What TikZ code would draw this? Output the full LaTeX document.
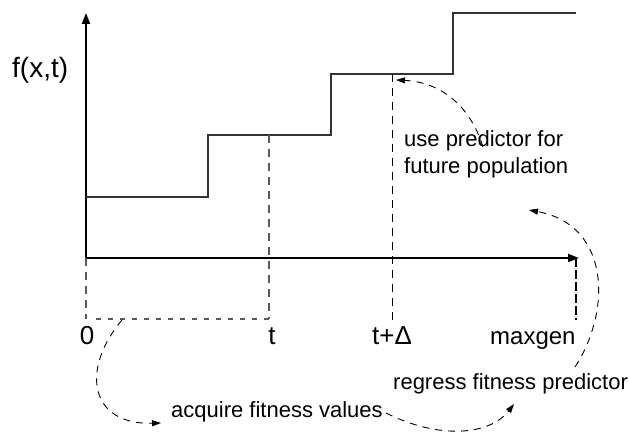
\documentclass[tikz,border=0pt]{standalone}
\usepackage{fontspec}
\setmainfont{Liberation Sans}
\usetikzlibrary{arrows.meta}
\begin{document}
\begin{tikzpicture}[x=1pt,y=-1pt,
  axis/.style={line width=2pt,-{Triangle[length=11pt,width=8pt]}},
  stepline/.style={line width=1.3pt,draw=black!80},
  guide/.style={line width=1.3pt,draw=black!65,dash pattern=on 8pt off 6pt},
  guideblack/.style={line width=1pt,draw=black,dash pattern=on 8pt off 6pt},
  dotguide/.style={line width=1.2pt,draw=black!65,dash pattern=on 5pt off 7pt},
  endguide/.style={line width=2.5pt,draw=black,dash pattern=on 9pt off 3pt},
  flow/.style={line width=0.9pt,dash pattern=on 7pt off 6pt,-{Triangle[length=9pt,width=6pt]}},
  big/.style={font=\fontsize{28}{32}\selectfont,inner sep=0pt},
  tick/.style={font=\fontsize{26}{30}\selectfont,inner sep=0pt,anchor=base},
  note/.style={font=\fontsize{22}{26}\selectfont,inner sep=0pt,anchor=base west,align=left}]
\useasboundingbox (0,0) rectangle (629,433);
% axes
\coordinate (O) at (86,258);
\coordinate (ytop) at (86,13);
\coordinate (xend) at (579,258);
\draw[axis] (86,259) -- (ytop);
\draw[axis] (85,258) -- (xend);
% step function
\coordinate (s0) at (86,197);
\coordinate (s1) at (208,197);
\coordinate (s2) at (208,135);
\coordinate (s3) at (331,135);
\coordinate (s4) at (331,74);
\coordinate (s5) at (453,74);
\coordinate (s6) at (453,13);
\coordinate (s7) at (576,13);
\draw[stepline] (s0) -- (s1) -- (s2) -- (s3) -- (s4) -- (s5) -- (s6) -- (s7);
% guides
\coordinate (g0) at (86,319);
\coordinate (gt) at (269,319);
\coordinate (gtt) at (269,135);
\coordinate (gd) at (392,320);
\coordinate (gdt) at (392,74);
\coordinate (gm) at (576,320);
\coordinate (gmt) at (576,258);
\coordinate (gs) at (96,319);
\draw[guide] (O) -- (g0);
\draw[guide] (gtt) -- (gt);
\draw[guideblack] (gdt) -- (gd);
\draw[dotguide] (gs) -- (gt);
\draw[endguide] (gmt) -- (gm);
% labels
\node[big,anchor=base west] (fl) at (12,78) {f(x,t)};
\node[tick] (l0) at (87,344) {0};
\node[tick] (lt) at (272,344) {t};
\node[tick] (ld) at (392,344) {t+Δ};
\node[note,font=\fontsize{24}{28}\selectfont] (lm) at (490,344) {maxgen};
\node[note] (use) at (404,173) {use predictor for\\[1pt]future population};
\node[note] (reg) at (393,389) {regress fitness predictor};
\node[note] (acq) at (171,417) {acquire fitness values};
% flow arrows
\coordinate (a1s) at (483,147);
\coordinate (a1e) at (396,80);
\coordinate (a2s) at (575,367);
\coordinate (a2e) at (529,210);
\coordinate (a3s) at (122,320);
\coordinate (a3e) at (161,423);
\coordinate (a4s) at (386,413);
\coordinate (a4e) at (514,404);
\draw[flow] (a1s) .. controls (470,105) and (440,82) .. (a1e);
\draw[flow] (a2s) .. controls (612,310) and (610,225) .. (a2e);
\draw[flow] (a3s) .. controls (80,370) and (90,425) .. (a3e);
\draw[flow] (a4s) .. controls (440,440) and (490,435) .. (a4e);
\end{tikzpicture}
\end{document}
